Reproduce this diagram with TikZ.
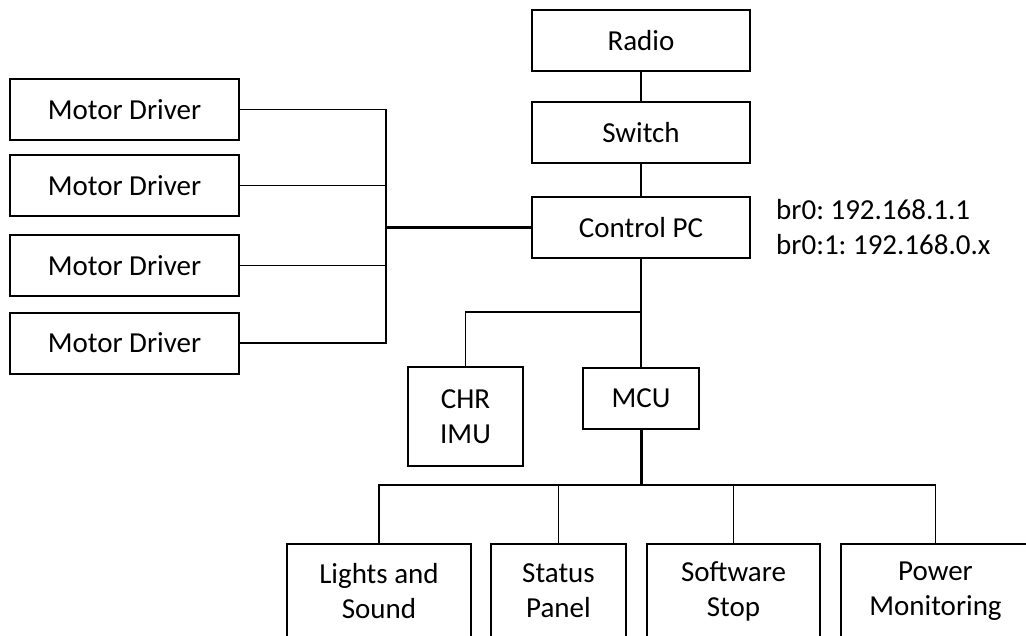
\documentclass[tikz,border=0pt]{standalone}
\usepackage{fontspec}
\setmainfont{Carlito}
\frenchspacing
\begin{document}
\begin{tikzpicture}[x=1pt,y=-1pt,
  box/.style={draw=black, line width=2pt, inner sep=0pt, align=center,
              font=\fontsize{29}{35}\selectfont},
  wire/.style={line width=1.7pt},
  heavywire/.style={line width=3pt},
  lbl/.style={inner sep=0pt, align=left, font=\fontsize{29}{35}\selectfont}]
\useasboundingbox (0,0) rectangle (1026,635);
\clip (0,0) rectangle (1026,635);
% motor drivers
\node[box, minimum width=229pt, minimum height=61pt] (md1) at (124.5,109.5) {Motor Driver};
\node[box, minimum width=229pt, minimum height=61pt] (md2) at (124.5,185.5) {Motor Driver};
\node[box, minimum width=229pt, minimum height=61pt] (md3) at (124.5,265.5) {Motor Driver};
\node[box, minimum width=229pt, minimum height=61pt] (md4) at (124.5,343) {Motor Driver};
% main column
\node[box, minimum width=218pt, minimum height=61pt] (radio) at (641,40.5) {Radio};
\node[box, minimum width=218pt, minimum height=61pt] (switch) at (641,132.5) {Switch};
\node[box, minimum width=218pt, minimum height=61pt] (pc) at (641,227.5) {Control PC};
\node[lbl, anchor=west] (ip) at (776,227.5) {br0: 192.168.1.1\\br0:1: 192.168.0.x};
\node[box, minimum width=115pt, minimum height=99pt] (chr) at (465.5,416.5) {CHR\\IMU};
\node[box, minimum width=116pt, minimum height=61pt] (mcu) at (641,398.5) {MCU};
% bottom row
\node[box, minimum width=184pt, minimum height=94pt] (ls) at (379,591) {Lights and\\Sound};
\node[box, minimum width=135pt, minimum height=94pt] (sp) at (558.5,591) {Status\\Panel};
\node[box, minimum width=173pt, minimum height=94pt] (ss) at (733.5,591) {Software\\Stop};
\node[box, minimum width=200pt, minimum height=94pt, text width=189pt, xshift=-5.5pt] (pm) at (946.5,591) {\hspace*{-11pt}Power\\\hspace*{-11pt}Monitoring};
% junctions
\coordinate (mdbus) at (386,227.5);
\coordinate (mdtop) at (386,109.5);
\coordinate (mdbot) at (386,343);
\coordinate (pcj) at (641,312);
\coordinate (mcuj) at (641,485);
\coordinate (pmj) at (935.5,485);
% connectors
\draw[wire] (md1.east) -- (md1.east -| mdtop) -- (mdbot) -- (md4.east);
\draw[wire] (md2.east) -- (md2.east -| mdbus);
\draw[wire] (md3.east) -- (md3.east -| mdbus);
\draw[heavywire] (mdbus) -- (pc.west);
\draw[wire] (radio.south) -- (switch.north);
\draw[wire] (switch.south) -- (pc.north);
\draw[line width=2.2pt] (pc.south) -- (pcj);
\draw[wire] (pcj) -| (chr.north);
\draw[wire] (pcj) -- (mcu.north);
\draw[heavywire] (mcu.south) -- (mcuj);
\draw[wire] (mcuj) -| (ls.north);
\draw[wire] (mcuj) -- (pmj) -- (pmj |- pm.north);
\draw[wire] (sp.north |- mcuj) -- (sp.north);
\draw[wire] (ss.north |- mcuj) -- (ss.north);
\end{tikzpicture}
\end{document}
